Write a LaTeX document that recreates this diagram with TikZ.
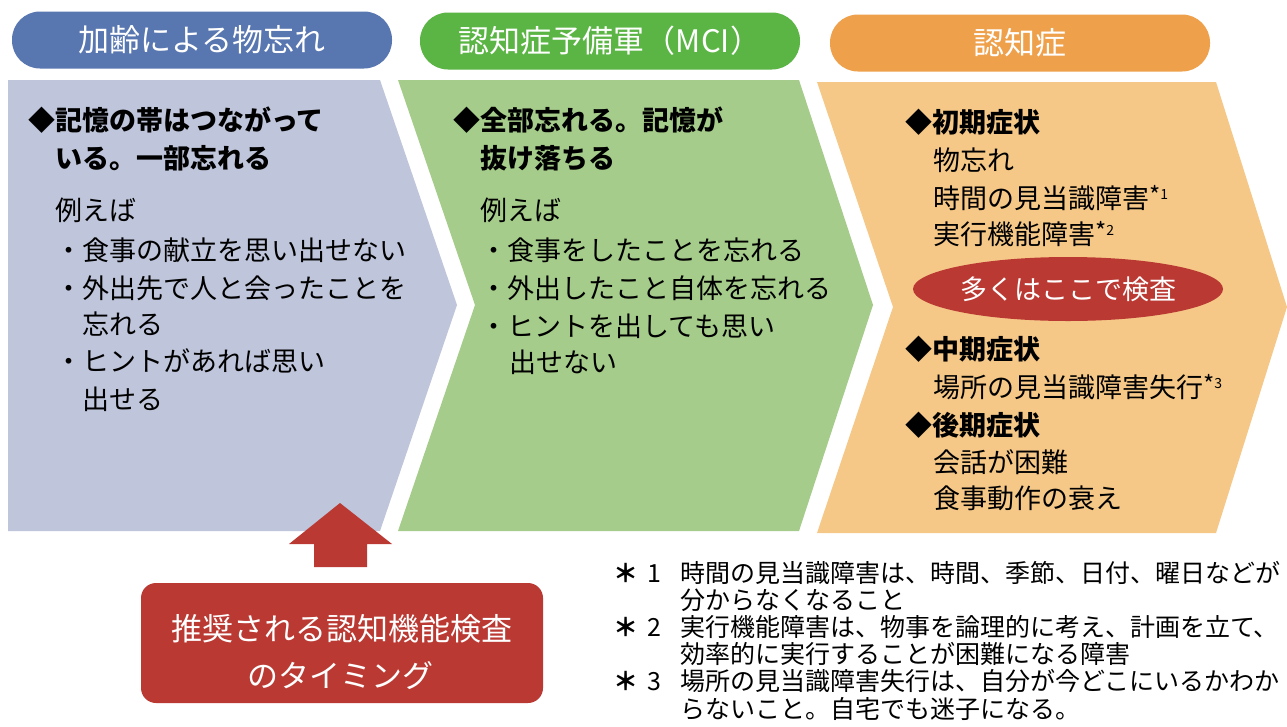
\documentclass[tikz,border=0pt]{standalone}
\usepackage{fontspec}
\setmainfont{Noto Sans CJK JP}
\usetikzlibrary{shapes.geometric}
\definecolor{bluepill}{RGB}{88,118,176}
\definecolor{bluebg}{RGB}{191,197,218}
\definecolor{greenpill}{RGB}{91,181,68}
\definecolor{greenbg}{RGB}{165,204,138}
\definecolor{orangepill}{RGB}{239,160,74}
\definecolor{orangebg}{RGB}{245,200,136}
\definecolor{redc}{RGB}{186,58,51}
\newcommand{\supmark}[1]{{\raisebox{4pt}{\fontsize{24}{24}\selectfont *}\raisebox{9pt}{\fontsize{14}{14}\selectfont #1}}}
\newcommand{\notemark}[1]{{\bfseries ＊}\hspace{9pt}#1}
\begin{document}
\begin{tikzpicture}[x=1pt,y=-1pt]
\tikzset{
  txt/.style={anchor=base west, inner sep=0pt, font=\fontsize{27}{27}\selectfont},
  hd/.style={anchor=base west, inner sep=0pt, font=\bfseries\fontsize{27}{27}\selectfont},
  note/.style={anchor=base west, inner sep=0pt, font=\fontsize{25}{25}\selectfont},
  pill/.style={rounded corners=28pt, minimum width=380pt, minimum height=57pt, inner sep=0pt, text=white, font=\fontsize{31}{31}\selectfont},
  wtxt/.style={anchor=base, inner sep=0pt, text=white, font=\fontsize{31}{31}\selectfont},
}
\useasboundingbox[fill=white] (0,0) rectangle (1287,726);
% chevrons
\fill[bluebg] (8,80) -- (380,80) -- (457,305) -- (380,531) -- (8,531) -- cycle;
\fill[greenbg] (398,80) -- (799,80) -- (873,305) -- (799,531) -- (398,531) -- (475,305) -- cycle;
\fill[orangebg] (817,82) -- (1216,82) -- (1287,307) -- (1216,533) -- (817,533) -- (893,307) -- cycle;
% header pills
\node[pill, fill=bluepill] (h1) at (202,40) {加齢による物忘れ};
\node[pill, fill=greenpill] (h2) at (610,41) {認知症予備軍（MCI）};
\node[pill, fill=orangepill] (h3) at (1020,43) {認知症};
% blue texts
\node[hd] (b1) at (28,130) {◆記憶の帯はつながって};
\node[hd] (b2) at (55,168) {いる。一部忘れる};
\node[txt] (b3) at (55,220) {例えば};
\node[txt] (b4) at (55,260) {・食事の献立を思い出せない};
\node[txt] (b5) at (55,298) {・外出先で人と会ったことを};
\node[txt] (b6) at (82,334) {忘れる};
\node[txt] (b7) at (55,371) {・ヒントがあれば思い};
\node[txt] (b8) at (82,409) {出せる};
% green texts
\node[hd] (g1) at (453,130) {◆全部忘れる。記憶が};
\node[hd] (g2) at (480,168) {抜け落ちる};
\node[txt] (g3) at (480,220) {例えば};
\node[txt] (g4) at (480,260) {・食事をしたことを忘れる};
\node[txt] (g5) at (480,298) {・外出したこと自体を忘れる};
\node[txt] (g6) at (480,336) {・ヒントを出しても思い};
\node[txt] (g7) at (509,372) {出せない};
% orange texts
\node[hd] (o1) at (905,132) {◆初期症状};
\node[txt] (o2) at (933,170) {物忘れ};
\node[txt] (o3) at (933,208) {時間の見当識障害\supmark{1}};
\node[txt] (o4) at (933,244) {実行機能障害\supmark{2}};
\node[ellipse, fill=redc, minimum width=310pt, minimum height=64pt, inner sep=0pt, text=white, font=\fontsize{27}{27}\selectfont] (kensa) at (1068,289) {多くはここで検査};
\node[hd] (o5) at (905,359) {◆中期症状};
\node[txt] (o6) at (933,397) {場所の見当識障害失行\supmark{3}};
\node[hd] (o7) at (905,435) {◆後期症状};
\node[txt] (o8) at (933,472) {会話が困難};
\node[txt] (o9) at (933,508) {食事動作の衰え};
% timing box and arrow
\node[fill=redc, rounded corners=15pt, minimum width=402pt, minimum height=120pt, inner sep=0pt] (timing) at (342,643) {};
\node[wtxt] (t1) at (342,640) {推奨される認知機能検査};
\node[wtxt] (t2) at (340,687) {のタイミング};
\fill[redc] (340,503) -- (392,544) -- (367,544) -- (367,567) -- (314,567) -- (314,544) -- (289,544) -- cycle;
% footnotes
\node[note] (m1) at (613,582.5) {\notemark{1}};
\node[note] (n1) at (680,582.5) {時間の見当識障害は、時間、季節、日付、曜日などが};
\node[note] (n2) at (680,609.5) {分からなくなること};
\node[note] (m2) at (613,636.5) {\notemark{2}};
\node[note] (n3) at (680,636.5) {実行機能障害は、物事を論理的に考え、計画を立て、};
\node[note] (n4) at (680,663.5) {効率的に実行することが困難になる障害};
\node[note] (m3) at (613,690.5) {\notemark{3}};
\node[note] (n5) at (680,690.5) {場所の見当識障害失行は、自分が今どこにいるかわか};
\node[note] (n6) at (680,718.5) {らないこと。自宅でも迷子になる。};
\end{tikzpicture}
\end{document}
